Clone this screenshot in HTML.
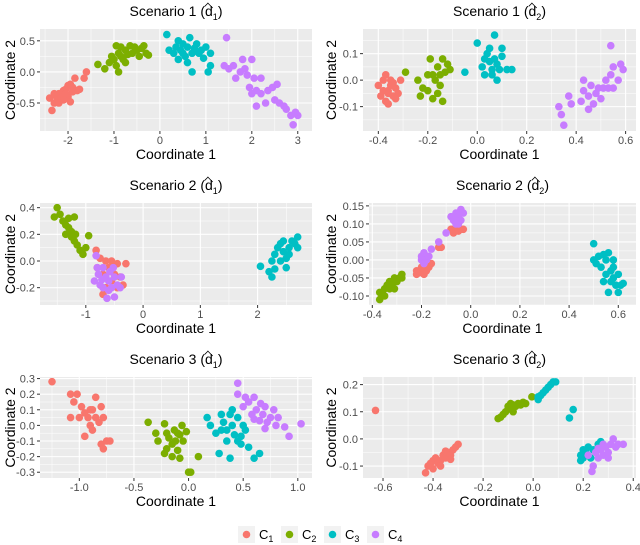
<!DOCTYPE html>
<html><head><meta charset="utf-8"><style>
body{margin:0;background:#fff;}
#wrap{position:relative;width:640px;height:545px;overflow:hidden;font-family:"Liberation Sans",sans-serif;}
.ttl{position:absolute;font-size:14px;color:#000;white-space:nowrap;transform:translateX(-50%);}
.hat{position:relative;display:inline-block;}
.hat:before{content:"";position:absolute;left:0px;top:-3px;width:8px;height:5px;border-left:1px solid #000;border-top:1px solid #000;transform:rotate(45deg) scale(0.8);transform-origin:0 100%;}
sub{font-size:9px;}
</style></head><body>
<div id="wrap">
<svg id="svg" width="640" height="545"></svg>
</div>
<script>
const colors=["#F8766D","#7CAE00","#00BFC4","#C77CFF"];
// panel 1: Scenario 1 d1
const p1c1=[[-2.35,-0.62],[-2.4,-0.42],[-2.3,-0.5],[-2.25,-0.4],[-2.2,-0.35],[-2.15,-0.42],[-2.1,-0.3],[-2.05,-0.28],[-2.0,-0.22],[-1.95,-0.2],[-1.9,-0.25],[-1.85,-0.1],[-1.8,-0.3],[-1.75,-0.28],[-2.0,-0.4],[-1.95,-0.48],[-2.1,-0.45],[-2.3,-0.35],[-1.6,0.0],[-1.65,-0.1],[-2.2,-0.5],[-2.05,-0.35],[-1.9,-0.32]];
const p1c2=[[-1.35,0.12],[-1.2,0.05],[-1.1,0.15],[-1.0,0.2],[-0.95,0.1],[-0.9,0.0],[-0.85,0.25],[-0.95,0.42],[-0.9,0.3],[-0.8,0.2],[-0.75,0.35],[-0.7,0.28],[-0.6,0.3],[-0.55,0.4],[-0.5,0.35],[-0.45,0.25],[-0.4,0.38],[-0.3,0.3],[-0.25,0.27],[-0.85,0.4],[-0.65,0.42],[-1.05,0.25],[-0.75,0.15],[-0.35,0.42]];
const p1c3=[[0.15,0.6],[0.2,0.35],[0.3,0.3],[0.4,0.5],[0.45,0.35],[0.5,0.45],[0.55,0.25],[0.6,0.4],[0.65,0.55],[0.7,0.3],[0.7,0.0],[0.8,0.45],[0.85,0.3],[0.9,0.35],[1.0,0.4],[1.05,0.0],[1.1,0.1],[1.1,0.3],[0.4,0.2],[0.6,0.15],[0.95,0.22],[0.5,0.3],[0.75,0.38],[0.35,0.4]];
const p1c4=[[1.45,0.55],[1.4,0.1],[1.5,0.05],[1.6,0.1],[1.65,-0.1],[1.8,0.2],[1.85,0.05],[1.9,-0.05],[1.95,-0.25],[2.0,0.2],[2.05,-0.1],[2.0,-0.35],[2.1,-0.55],[2.1,-0.3],[2.2,-0.35],[2.3,-0.5],[2.35,-0.3],[2.45,-0.25],[2.5,-0.45],[2.55,-0.2],[2.6,-0.5],[2.7,-0.55],[2.75,-0.6],[2.85,-0.7],[2.9,-0.85],[3.0,-0.7],[2.95,-0.65],[2.2,-0.1],[1.75,0.0]];
// panel 2: Scenario 1 d2
const p2c1=[[-0.4,-0.02],[-0.39,-0.06],[-0.38,0.0],[-0.37,0.02],[-0.36,-0.04],[-0.36,-0.09],[-0.35,-0.02],[-0.35,0.0],[-0.34,-0.06],[-0.33,-0.03],[-0.32,-0.05],[-0.31,0.0],[-0.37,-0.08],[-0.34,-0.01],[-0.38,-0.04],[-0.33,-0.07],[-0.36,-0.05]];
const p2c2=[[-0.29,0.03],[-0.24,0.0],[-0.23,-0.06],[-0.22,-0.03],[-0.2,-0.04],[-0.2,0.02],[-0.19,0.08],[-0.18,-0.07],[-0.17,0.0],[-0.16,0.05],[-0.15,-0.02],[-0.15,0.02],[-0.14,0.08],[-0.14,-0.08],[-0.13,0.03],[-0.12,0.06],[-0.11,0.04],[-0.16,-0.05],[-0.18,0.02]];
const p2c3=[[-0.05,0.03],[0.0,0.14],[0.02,0.05],[0.03,0.02],[0.04,0.1],[0.05,0.07],[0.05,0.12],[0.06,0.04],[0.07,0.17],[0.07,0.08],[0.08,0.0],[0.09,0.04],[0.1,0.09],[0.1,0.12],[0.12,0.04],[0.14,0.04],[0.08,0.06],[0.03,0.08],[0.06,0.02]];
const p2c4=[[0.33,-0.1],[0.35,-0.17],[0.34,-0.13],[0.37,-0.06],[0.38,-0.09],[0.42,-0.08],[0.43,-0.04],[0.43,0.0],[0.45,-0.06],[0.46,-0.02],[0.47,-0.09],[0.48,-0.05],[0.49,-0.03],[0.5,-0.07],[0.51,-0.03],[0.52,0.0],[0.53,-0.03],[0.54,0.13],[0.55,0.05],[0.55,-0.03],[0.57,0.0],[0.58,0.06],[0.59,0.04],[0.54,0.02],[0.45,-0.11]];
// panel 3: Scenario 2 d1
const p3c1=[[-0.82,0.08],[-0.8,-0.05],[-0.75,0.02],[-0.7,-0.1],[-0.65,0.0],[-0.6,-0.05],[-0.55,-0.15],[-0.5,-0.1],[-0.45,-0.02],[-0.45,-0.2],[-0.4,-0.12],[-0.35,-0.18],[-0.3,-0.02],[-0.55,0.0],[-0.65,-0.2],[-0.7,-0.25]];
const p3c2=[[-1.5,0.4],[-1.55,0.33],[-1.45,0.35],[-1.4,0.3],[-1.35,0.27],[-1.3,0.32],[-1.3,0.25],[-1.25,0.22],[-1.2,0.33],[-1.25,0.18],[-1.2,0.15],[-1.15,0.12],[-1.1,0.08],[-1.05,0.05],[-0.95,0.19],[-1.0,0.1],[-1.35,0.2],[-1.18,0.2]];
const p3c3=[[2.05,-0.04],[2.2,-0.08],[2.25,-0.12],[2.25,0.0],[2.3,0.05],[2.35,0.1],[2.4,0.0],[2.4,0.13],[2.45,0.07],[2.5,0.02],[2.5,-0.05],[2.55,0.1],[2.6,0.15],[2.65,0.13],[2.7,0.18],[2.7,0.1],[2.3,-0.06],[2.45,0.15],[2.55,0.05]];
const p3c4=[[-0.85,-0.15],[-0.82,0.04],[-0.8,-0.05],[-0.78,-0.1],[-0.75,-0.18],[-0.7,-0.05],[-0.7,-0.2],[-0.65,-0.12],[-0.63,-0.28],[-0.6,-0.15],[-0.58,-0.08],[-0.55,-0.2],[-0.5,-0.12],[-0.5,-0.27],[-0.45,-0.18],[-0.4,-0.2],[-0.38,-0.12],[-0.6,-0.22],[-0.72,-0.14],[-0.52,-0.05]];
// panel 4: Scenario 2 d2
const p4c1=[[-0.22,-0.04],[-0.22,-0.03],[-0.2,-0.035],[-0.19,-0.04],[-0.18,-0.03],[-0.17,-0.02],[-0.16,-0.01],[-0.2,-0.02],[-0.13,0.035],[-0.12,0.035],[-0.08,0.085],[-0.07,0.075],[-0.06,0.09],[-0.05,0.08],[-0.04,0.085],[-0.03,0.085],[-0.05,0.09]];
const p4c2=[[-0.37,-0.11],[-0.37,-0.09],[-0.36,-0.09],[-0.35,-0.08],[-0.34,-0.07],[-0.33,-0.08],[-0.33,-0.06],[-0.32,-0.07],[-0.31,-0.05],[-0.3,-0.06],[-0.29,-0.05],[-0.28,-0.04],[-0.28,-0.05],[-0.31,-0.08],[-0.35,-0.1]];
const p4c3=[[0.5,0.045],[0.5,0.0],[0.51,-0.01],[0.52,0.01],[0.53,-0.02],[0.54,0.015],[0.55,0.0],[0.55,-0.04],[0.56,0.02],[0.56,-0.09],[0.57,-0.03],[0.57,-0.06],[0.58,0.0],[0.58,-0.05],[0.59,-0.07],[0.6,-0.04],[0.6,-0.09],[0.61,-0.07],[0.62,-0.065],[0.54,-0.06],[0.58,-0.02]];
const p4c4=[[-0.2,0.0],[-0.2,0.01],[-0.19,0.02],[-0.18,0.0],[-0.17,0.01],[-0.16,0.03],[-0.19,-0.01],[-0.13,0.05],[-0.1,0.075],[-0.08,0.12],[-0.07,0.11],[-0.06,0.13],[-0.05,0.12],[-0.04,0.14],[-0.04,0.11],[-0.03,0.13],[-0.05,0.1],[-0.06,0.1]];
// panel 5: Scenario 3 d1
const p5c1=[[-1.25,0.28],[-1.08,0.2],[-1.05,0.15],[-1.02,0.2],[-1.0,0.05],[-0.98,0.12],[-0.95,0.08],[-0.95,-0.07],[-0.92,0.05],[-0.9,0.1],[-0.9,0.0],[-0.88,-0.03],[-0.85,0.18],[-0.85,0.05],[-0.82,0.02],[-0.8,0.12],[-0.78,0.05],[-0.78,-0.15],[-0.75,-0.1],[-0.72,-0.1],[-0.8,-0.12],[-1.08,0.05],[-0.88,0.1]];
const p5c2=[[-0.37,0.02],[-0.3,-0.05],[-0.28,-0.1],[-0.22,0.01],[-0.2,-0.05],[-0.2,-0.15],[-0.18,-0.08],[-0.15,-0.12],[-0.15,-0.2],[-0.13,-0.03],[-0.12,-0.1],[-0.1,-0.16],[-0.08,-0.06],[-0.08,-0.21],[-0.06,0.0],[-0.05,-0.1],[-0.02,-0.04],[0.0,-0.3],[0.02,-0.3],[0.09,-0.2],[-0.1,-0.05],[-0.22,-0.18]];
const p5c3=[[0.17,0.05],[0.2,0.0],[0.25,-0.05],[0.28,-0.18],[0.3,0.07],[0.32,0.02],[0.35,-0.03],[0.35,-0.1],[0.38,-0.21],[0.4,0.1],[0.4,0.0],[0.42,-0.06],[0.45,-0.1],[0.45,0.05],[0.48,-0.12],[0.5,0.0],[0.52,-0.03],[0.55,-0.14],[0.6,-0.21],[0.65,-0.18],[0.3,-0.03],[0.38,0.07],[0.48,-0.07]];
const p5c4=[[0.45,0.27],[0.45,0.2],[0.5,0.12],[0.52,0.18],[0.55,0.15],[0.58,0.07],[0.6,0.18],[0.62,0.1],[0.65,0.03],[0.66,0.14],[0.68,0.07],[0.7,0.12],[0.72,0.02],[0.75,0.05],[0.78,0.1],[0.8,0.0],[0.82,0.05],[0.88,-0.01],[0.92,-0.07],[1.03,0.01],[0.7,-0.02],[0.6,0.04]];
// panel 6: Scenario 3 d2
const p6c1=[[-0.63,0.105],[-0.43,-0.125],[-0.42,-0.1],[-0.41,-0.09],[-0.4,-0.11],[-0.4,-0.08],[-0.39,-0.07],[-0.38,-0.09],[-0.37,-0.08],[-0.36,-0.06],[-0.35,-0.07],[-0.34,-0.05],[-0.33,-0.06],[-0.32,-0.04],[-0.31,-0.03],[-0.3,-0.02],[-0.37,-0.1],[-0.35,-0.045],[-0.33,-0.075]];
const p6c2=[[-0.14,0.075],[-0.13,0.08],[-0.12,0.09],[-0.11,0.1],[-0.1,0.12],[-0.1,0.11],[-0.09,0.13],[-0.08,0.1],[-0.07,0.12],[-0.06,0.13],[-0.05,0.125],[-0.04,0.135],[-0.03,0.13],[-0.005,0.155],[-0.08,0.125]];
const p6c3=[[0.02,0.155],[0.02,0.145],[0.03,0.16],[0.04,0.17],[0.05,0.18],[0.06,0.19],[0.07,0.2],[0.08,0.21],[0.09,0.21],[0.145,0.077],[0.16,0.108],[0.19,-0.08],[0.19,-0.06],[0.2,-0.04],[0.21,-0.05],[0.22,-0.03],[0.23,-0.07],[0.24,-0.04],[0.26,-0.02],[0.27,-0.01],[0.2,-0.07]];
const p6c4=[[0.235,-0.12],[0.24,-0.1],[0.22,-0.06],[0.25,-0.05],[0.26,-0.07],[0.27,-0.04],[0.28,-0.06],[0.28,-0.02],[0.29,-0.03],[0.3,-0.05],[0.31,-0.02],[0.32,0.0],[0.33,-0.03],[0.34,-0.02],[0.36,-0.02],[0.26,-0.035],[0.3,-0.07]];
// ticks
const p1xt=[-2,-1,0,1,2,3], p1xl=["-2","-1","0","1","2","3"], p1yt=[-0.5,0,0.5], p1yl=["-0.5","0.0","0.5"];
const p2xt=[-0.4,-0.2,0,0.2,0.4,0.6], p2xl=["-0.4","-0.2","0.0","0.2","0.4","0.6"], p2yt=[-0.1,0,0.1], p2yl=["-0.1","0.0","0.1"];
const p3xt=[-1,0,1,2], p3xl=["-1","0","1","2"], p3yt=[-0.2,0,0.2,0.4], p3yl=["-0.2","0.0","0.2","0.4"];
const p4xt=[-0.4,-0.2,0,0.2,0.4,0.6], p4xl=["-0.4","-0.2","0.0","0.2","0.4","0.6"], p4yt=[-0.1,-0.05,0,0.05,0.1,0.15], p4yl=["-0.10","-0.05","0.00","0.05","0.10","0.15"];
const p5xt=[-1,-0.5,0,0.5,1], p5xl=["-1.0","-0.5","0.0","0.5","1.0"], p5yt=[-0.3,-0.2,-0.1,0,0.1,0.2,0.3], p5yl=["-0.3","-0.2","-0.1","0.0","0.1","0.2","0.3"];
const p6xt=[-0.6,-0.4,-0.2,0,0.2,0.4], p6xl=["-0.6","-0.4","-0.2","0.0","0.2","0.4"], p6yt=[-0.1,0,0.1,0.2], p6yl=["-0.1","0.0","0.1","0.2"];

const NS="http://www.w3.org/2000/svg";
const svg=document.getElementById('svg');
const wrap=document.getElementById('wrap');
function mk(tag,attrs,parent){const e=document.createElementNS(NS,tag);for(const k in attrs)e.setAttribute(k,attrs[k]);(parent||svg).appendChild(e);return e;}

const panels=[
 {name:"scenario1-d1",sc:"1",sub:"1",box:[40,29,312,131],xd:[-2.61,3.31],yd:[-0.95,0.69],xt:p1xt,xl:p1xl,yt:p1yt,yl:p1yl,series:[p1c1,p1c2,p1c3,p1c4]},
 {name:"scenario1-d2",sc:"1",sub:"2",box:[363,29,636,131],xd:[-0.462,0.642],yd:[-0.192,0.193],xt:p2xt,xl:p2xl,yt:p2yt,yl:p2yl,series:[p2c1,p2c2,p2c3,p2c4]},
 {name:"scenario2-d1",sc:"2",sub:"1",box:[40,203,312,305],xd:[-1.8,2.95],yd:[-0.33,0.435],xt:p3xt,xl:p3xl,yt:p3yt,yl:p3yl,series:[p3c2,p3c1,p3c4,p3c3],order:[1,0,3,2]},
 {name:"scenario2-d2",sc:"2",sub:"2",box:[369,203,636,305],xd:[-0.4135,0.672],yd:[-0.125,0.158],xt:p4xt,xl:p4xl,yt:p4yt,yl:p4yl,series:[p4c2,p4c1,p4c4,p4c3],order:[1,0,3,2]},
 {name:"scenario3-d1",sc:"3",sub:"1",box:[40,377,312,478],xd:[-1.36,1.13],yd:[-0.337,0.31],xt:p5xt,xl:p5xl,yt:p5yt,yl:p5yl,series:[p5c1,p5c2,p5c3,p5c4]},
 {name:"scenario3-d2",sc:"3",sub:"2",box:[363,377,636,478],xd:[-0.68,0.411],yd:[-0.144,0.228],xt:p6xt,xl:p6xl,yt:p6yt,yl:p6yl,series:[p6c1,p6c2,p6c3,p6c4]}
];

panels.forEach(p=>{
  const [x0,y0,x1,y1]=p.box;
  const sx=v=>x0+(v-p.xd[0])/(p.xd[1]-p.xd[0])*(x1-x0);
  const sy=v=>y1-(v-p.yd[0])/(p.yd[1]-p.yd[0])*(y1-y0);
  const g=mk('g',{});
  
  
  const bg=mk('rect',{x:x0,y:y0,width:x1-x0,height:y1-y0,fill:'#EBEBEB'},g);
  
  
  const dx=p.xt[1]-p.xt[0], dy=p.yt[1]-p.yt[0];
  for(let v=p.xt[0]-dx/2; v<=p.xd[1]; v+=dx){ if(v>=p.xd[0]){const l=mk('line',{x1:sx(v),x2:sx(v),y1:y0,y2:y1,stroke:'#fff','stroke-width':0.5},g);}}
  for(let v=p.yt[0]-dy/2; v<=p.yd[1]; v+=dy){ if(v>=p.yd[0]){const l=mk('line',{x1:x0,x2:x1,y1:sy(v),y2:sy(v),stroke:'#fff','stroke-width':0.5},g);}}
  p.xt.forEach((v,i)=>{
    const l=mk('line',{x1:sx(v),x2:sx(v),y1:y0,y2:y1,stroke:'#fff','stroke-width':1.1},g);
    
    
    mk('line',{x1:sx(v),x2:sx(v),y1:y1,y2:y1+3,stroke:'#333','stroke-width':1},g);
    const t=mk('text',{x:sx(v),y:y1+13,'text-anchor':'middle','font-size':'11','fill':'#4D4D4D'},g);
    t.textContent=p.xl[i];
    
    
  });
  p.yt.forEach((v,i)=>{
    const l=mk('line',{x1:x0,x2:x1,y1:sy(v),y2:sy(v),stroke:'#fff','stroke-width':1.1},g);
    
    
    mk('line',{x1:x0-3,x2:x0,y1:sy(v),y2:sy(v),stroke:'#333','stroke-width':1},g);
    const t=mk('text',{x:x0-5,y:sy(v)+4,'text-anchor':'end','font-size':'11','fill':'#4D4D4D'},g);
    t.textContent=p.yl[i];
    
    
  });
  const order=p.order||[0,1,2,3];
  p.series.forEach((s,si)=>{
    const ci=order[si];
    s.forEach(pt=>{
      const c=mk('circle',{cx:sx(pt[0]),cy:sy(pt[1]),r:3.8,fill:colors[ci]},g);
      
      
    });
  });
  const xt=mk('text',{x:(x0+x1)/2,y:y1+28,'text-anchor':'middle','font-size':'14','fill':'#000'},g);
  xt.textContent='Coordinate 1';
  
  
  const yx=x0<200?10:331;
  const yt=mk('text',{x:yx,y:(y0+y1)/2,'text-anchor':'middle','font-size':'14','fill':'#000',transform:`rotate(-90 ${yx} ${(y0+y1)/2})`,dy:'5'},g);
  yt.textContent='Coordinate 2';
  
  
  const d=document.createElement('div');
  d.className='ttl';
  d.style.left=((x0+x1)/2)+'px';
  d.style.top=(y0-26)+'px';
  d.innerHTML='Scenario '+p.sc+' (<span class="hat">d</span><sub>'+p.sub+'</sub>)';
  
  
  wrap.appendChild(d);
});
const lx=[238,281,324,367];
const lg=mk('g',{});


lx.forEach((x,i)=>{
  const e=mk('g',{},lg);
  
  
  mk('rect',{x:x,y:526,width:17,height:17,fill:'#F2F2F2'},e);
  mk('circle',{cx:x+8.5,cy:534.5,r:3.8,fill:colors[i]},e);
  const t=mk('text',{x:x+21,y:539,'font-size':'13','fill':'#000'},e);
  t.innerHTML='C<tspan font-size="9" dy="3">'+(i+1)+'</tspan>';
});
</script>
</body></html>
